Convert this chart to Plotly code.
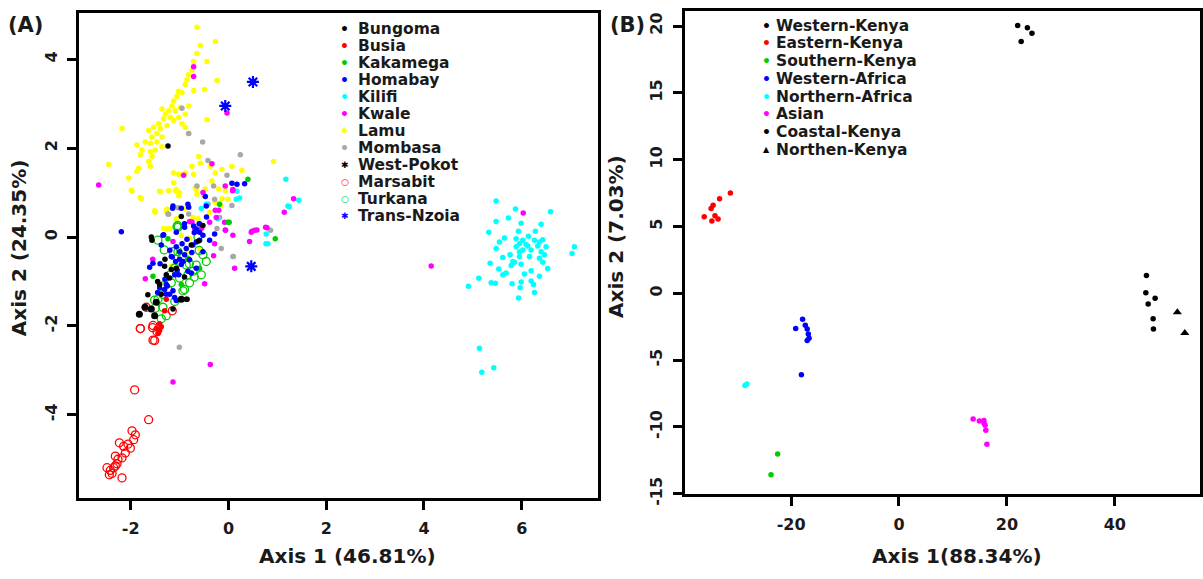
import plotly.graph_objects as go

# ---------------- Panel A data (Axis 1 / Axis 2) ----------------
bungoma_x = [-1.579, -1.307, -1.818, -1.511, -0.864, -1.205, -1.068, -0.966, -1.409, -1.238,
             -1.566, -0.611, -1.273, -1.17, -1.375, -1.136, -0.762, -0.523, -0.847,
             -1.45, -1.3, -0.9, -1.65]
bungoma_y = [0.0, -0.66, -1.73, -1.77, -1.40, -0.92, -0.70, 0.46, -1.07, 2.05,
             -0.07, -0.09, -0.85, -0.73, -1.29, -1.62, -0.18, 0.26, -1.40,
             -1.0, -0.5, -0.9, -1.3]

busia_x = [-1.477, -1.409, -1.273, -1.307, -1.443, -1.375, -1.409]
busia_y = [-2.06, -2.10, -1.40, -1.66, -2.17, -2.02, -1.95]

kakamega_x = [0.398, -0.01, 0.957, -1.545, -1.239, 0.014, -0.182, -0.83, -0.591, -0.966]
kakamega_y = [1.30, 0.33, -0.04, -0.88, -0.04, 0.33, 0.74, -0.48, -0.70, -1.07]

homabay_x = [-2.192, 0.07, 0.173, 0.33, -1.143, -0.966, -0.815, -0.474, -1.327, -0.713,
             -1.613, -1.545, -1.375, -1.341, -1.068, -0.898, -1.068, -1.0, -0.898, -1.082,
             -0.966, -0.796, -0.659, -0.591, -1.273, -1.136, -1.102, -1.409, -0.659, -0.523,
             -1.273, -1.02, -0.83, -0.284, -0.455, -1.136, -0.83, -1.17, -0.932, -0.864,
             -0.728, -0.591, -0.386, -0.523, -1.102, -1.307, -1.204, -1.068, -0.762, -0.659,
             -1.2, -1.15, -0.95, -0.85, -1.3, -1.25, -1.45, -0.75, -0.7, -0.6,
             -1.0, -1.05, -1.4, -0.45, -0.9]
homabay_y = [0.12, 1.21, 1.19, 1.20, 0.65, 0.65, 0.67, 0.91, 0.05, 0.25,
             -0.68, -0.59, -0.18, 0.04, 0.11, 0.22, -0.22, -0.33, -0.40, -0.55,
             -0.62, -0.51, 0.18, -0.07, -1.29, -1.21, -1.36, -1.14, -0.11, 0.04,
             -1.07, -0.85, -0.77, 0.07, 0.70, 0.70, 0.74, -0.44, -0.55, -0.26,
             -0.18, 0.11, -0.07, -0.33, -0.85, -1.18, -1.29, -1.43, -0.81, -0.70,
             -0.3, -0.45, -0.15, -0.05, -0.95, -1.1, -1.25, -0.35, 0.1, 0.3,
             -0.5, -0.75, -0.6, 0.45, 0.3]

kilifi_x = [5.476, 5.871, 6.587, 5.728, 5.476, 5.987, 6.396, 5.326, 5.933, 6.28,
            5.646, 5.544, 6.137, 6.021, 5.953, 6.26, 6.43, 5.885, 6.123, 6.328,
            6.498, 5.476, 6.021, 6.192, 6.396, 6.464, 7.078, 7.03, 5.762, 5.612,
            5.953, 6.158, 6.362, 5.353, 5.851, 5.987, 5.783, 6.43, 6.532, 5.53,
            5.612, 5.68, 6.055, 6.192, 6.362, 5.121, 5.374, 5.462, 4.91, 5.803,
            5.987, 5.967, 6.192, 6.24, 6.26, 5.933, 5.135, 5.183, 5.428, 5.885,
            6.089, 6.362, 5.953, 5.817,
            1.174, 1.243, 1.44, 0.767, 0.172, -0.557, -0.216, 0.159, 0.227, 0.772,
            0.806, 1.215, -0.455]
kilifi_y = [0.81, 0.63, 0.57, 0.43, 0.35, 0.31, 0.29, 0.11, 0.13, 0.13,
            -0.02, -0.11, 0.02, -0.07, -0.15, -0.07, -0.06, -0.22, -0.20, -0.20,
            -0.22, -0.26, -0.29, -0.29, -0.33, -0.40, -0.22, -0.37, -0.40, -0.46,
            -0.44, -0.44, -0.48, -0.59, -0.57, -0.61, -0.64, -0.57, -0.71, -0.72,
            -0.85, -0.81, -0.83, -0.76, -0.88, -0.93, -1.03, -1.04, -1.11, -1.05,
            -1.01, -1.14, -0.99, -1.07, -1.25, -1.37, -2.50, -3.04, -2.94, -0.04,
            -0.17, -0.11, -0.33, -0.55,
            1.30, 0.68, 0.83, -0.15, 1.03, 0.64, 0.41, 0.85, 0.88, 0.07,
            -0.15, 0.70, 0.74]

kwale_x = [-0.713, -0.713, -0.031, -2.656, -0.918, -0.338, -0.066, 0.084, -0.522, 1.332,
           1.141, -0.066, 0.48, 0.582, 0.787, -0.747, -0.27, 4.147, 6.03, -0.372,
           -1.136, 0.534, 0.759, 0.466, -0.06, 0.09, 0.431, -0.305, 0.125, -0.489,
           -1.702, 0.09, -0.796, -1.136, -0.386, -0.25, -0.693, -0.591, -0.284, -0.08,
           -0.55, -0.2, -1.55]
kwale_y = [3.83, 3.61, 2.79, 1.17, 1.39, 1.65, 1.15, 1.04, 1.0, 0.86,
           0.56, 0.16, 0.13, 0.16, 0.21, 0.34, 0.60, -0.65, 0.54, -2.87,
           -3.26, 0.15, 0.22, 0.11, 0.15, 0.04, -0.10, -0.42, -0.70, -1.05,
           -0.94, 1.07, 0.35, -0.10, 0.33, 0.44, 0.18, 0.30, -0.15, 0.33,
           0.2, 0.6, -0.5]

lamu_x = [-0.645, -0.27, -0.577, -0.645, -0.713, -0.44, -0.747, -0.815, -0.85, -0.236,
          -0.884, -0.713, -0.488, -1.02, -1.054, -0.952, -1.122, -1.156, -1.225, -1.36,
          -1.29, -1.088, -0.815, -0.986, -0.884, -1.02, -1.19, -1.122, -1.327, -1.43,
          -1.531, -1.633, -1.395, -1.259, -0.952, -0.884, -0.44, -0.815, -1.463, -1.36,
          -1.565, -1.702, -1.6, -1.463, -1.36, -1.497, -1.6, -1.77, -1.872, -1.804,
          -1.565, -1.633, -1.6, -2.179, -2.451, -1.838, -1.872, -2.042, -1.974, -1.804,
          -1.395, -1.225, -1.088, -1.02, -1.122, -1.02, -1.122, -0.884, -0.713, -0.747,
          -0.611, -0.577, -0.372, -0.27, -0.134, 0.07, 0.275, -0.338, -0.474, -0.679,
          -0.645, -0.509, -0.202, -0.066, -0.134, -0.27, 0.923, -1.497, -1.259, -1.327,
          -1.225, -1.988, -1.409, -1.784, -1.068, -1.0, -0.659, -1.511, -1.273, -0.898,
          -0.728, -0.625, -1.273, -1.204, -0.966, -0.796, -0.591, -0.864, -1.17, -1.068,
          -0.386, -0.148, -0.012, -0.25]
lamu_y = [4.72, 4.40, 4.31, 4.13, 3.95, 3.95, 3.76, 3.65, 3.54, 3.52,
          3.43, 3.30, 3.32, 3.28, 3.17, 3.25, 3.06, 2.95, 2.84, 2.88,
          2.77, 2.84, 2.95, 2.92, 2.77, 2.69, 2.69, 2.62, 2.66, 2.55,
          2.47, 2.40, 2.44, 2.51, 2.55, 2.47, 2.64, 2.33, 2.33, 2.25,
          2.25, 2.14, 2.11, 2.14, 2.03, 1.96, 1.92, 1.96, 2.07, 1.85,
          1.81, 1.70, 1.59, 2.44, 1.63, 1.55, 1.48, 1.33, 1.04, 0.89,
          1.02, 1.04, 1.04, 0.93, 1.22, 1.41, 1.44, 1.44, 1.41, 1.59,
          1.81, 1.66, 1.59, 1.44, 1.52, 1.59, 1.50, 1.26, 1.08, 1.11,
          0.96, 0.93, 1.08, 1.04, 0.86, 0.78, 1.70, 0.56, 0.63, 0.19,
          0.19, 1.05, 1.03, 0.86, 1.07, 0.99, 1.07, 0.59, 0.59, 0.63,
          0.44, 0.41, 0.18, 0.18, 0.04, -0.04, -0.26, -0.33, -0.66, 0.41,
          0.55, 0.70, 0.85, 0.77]

mombasa_x = [-0.952, -0.815, -0.529, 0.241, -0.42, -0.031, -0.304, -0.645, -1.225, -0.815,
             0.07, -0.236, 0.1, 0.86, -1.006, -1.239, 0.09, -0.148, -1.034, -0.42,
             -0.284, -0.182]
mombasa_y = [2.90, 2.33, 2.14, 1.85, 1.72, 1.39, 1.15, 1.15, 0.51, 0.52,
             0.71, 0.19, -0.44, 0.15, -2.48, 0.52, -0.44, -0.26, 0.66, 0.74,
             0.85, 0.44]

westpokot_x = [-1.824, -1.708, -1.477, -1.579, -0.966, -1.511]
westpokot_y = [-1.74, -1.58, -1.47, -1.62, -1.40, -1.77]

marsabit_x = [-1.804, -1.552, -1.463, -1.511, -1.92, -1.634, -1.974, -1.906, -1.94, -2.056,
              -2.233, -2.145, -2.008, -2.11, -2.179, -2.315, -2.261, -2.281, -2.486, -2.417,
              -2.349, -2.383, -2.438, -2.179, -2.315, -1.804, -1.545, -1.545, -1.682, -1.15]
marsabit_y = [-2.06, -2.04, -2.13, -2.33, -3.44, -4.11, -4.36, -4.45, -4.56, -4.66,
              -4.63, -4.71, -4.75, -4.86, -4.97, -4.93, -5.00, -5.10, -5.19, -5.25,
              -5.19, -5.32, -5.35, -5.42, -5.15, -2.06, -1.99, -2.32, -1.58, -1.66]

turkana_x = [-1.034, -1.443, -1.136, -0.659, -0.83, -0.796, -0.932, -1.341, -1.511, -1.375,
             -0.625, -0.455, -0.864, -1.054, -1.041, -1.315, -0.728, -1.0, -1.17, -1.239,
             -1.443, -1.341, -1.273, -0.523, -0.557, -0.898, -1.034, -1.102,
             -0.95, -1.2, -1.35, -0.8, -0.7, -1.5, -1.1, -0.6]
turkana_y = [0.22, -0.07, -0.33, -0.63, -0.85, -1.03, -1.21, -1.29, -1.42, -1.84,
             0.0, -0.55, -0.63, 0.23, 0.26, -0.29, -0.77, -0.92, -1.03, -1.18,
             -1.40, -1.58, -1.77, -0.40, -0.85, -1.18, -0.33, -0.70,
             -0.45, -0.85, -1.1, -0.6, -0.9, -1.6, -1.45, -0.3]

transnzoia_x = [0.5, -0.066, 0.466]
transnzoia_y = [3.49, 2.95, -0.66]

# ---------------- Panel B data ----------------
wkenya_x = [22.0, 23.8, 22.65, 24.65]
wkenya_y = [20.04, 19.87, 18.85, 19.46]
ekenya_x = [-31.26, -33.26, -34.46, -34.83, -34.11, -36.11, -33.54, -34.69]
ekenya_y = [7.51, 7.07, 6.58, 6.34, 5.80, 5.73, 5.56, 5.41]
skenya_x = [-22.5, -23.72]
skenya_y = [-12.02, -13.58]
wafrica_x = [-17.87, -19.15, -17.37, -17.02, -16.81, -16.67, -17.02, -18.09]
wafrica_y = [-1.95, -2.63, -2.39, -2.68, -3.05, -3.37, -3.54, -6.10]
nafrica_x = [-28.56, -28.2]
nafrica_y = [-6.90, -6.78]
asian_x = [13.74, 14.89, 15.74, 15.96, 16.1, 16.3, 15.74]
asian_y = [-9.41, -9.56, -9.51, -9.88, -10.24, -11.29, -9.7]
ckenya_x = [45.87, 45.76, 47.48, 46.19, 47.11, 47.17]
ckenya_y = [1.34, 0.05, -0.37, -0.80, -1.90, -2.68]
nkenya_x = [51.6, 52.98]
nkenya_y = [-1.41, -2.98]

ticks_a_x = [-2, 0, 2, 4, 6]
ticks_a_y = [-4, -2, 0, 2, 4]
ticks_b_x = [-20, 0, 20, 40]
ticks_b_y = [-15, -10, -5, 0, 5, 10, 15, 20]

W, H = 1203, 579
FONT = "DejaVu Sans"

fig = go.Figure()

def dots(x, y, color, size=5.5, symbol="circle", axis="A", lw=0):
    xa, ya = ("x", "y") if axis == "A" else ("x2", "y2")
    if symbol.endswith("open"):
        marker = dict(symbol=symbol, size=size, color=color, line=dict(color=color, width=lw or 1.3))
    else:
        marker = dict(symbol=symbol, size=size, color=color, line=dict(width=0))
    fig.add_trace(go.Scatter(x=x, y=y, mode="markers", marker=marker,
                             xaxis=xa, yaxis=ya, showlegend=False, hoverinfo="skip"))

# panel A
dots(lamu_x, lamu_y, "#FFFF00")
dots(mombasa_x, mombasa_y, "#A8A8A8")
dots(kilifi_x, kilifi_y, "#00FFFF")
dots(kwale_x, kwale_y, "#FF00FF")
dots(turkana_x, turkana_y, "#00CD00", size=8, symbol="circle-open")
dots(marsabit_x, marsabit_y, "#FF0000", size=8, symbol="circle-open")
dots(kakamega_x, kakamega_y, "#00CD00")
dots(homabay_x, homabay_y, "#0000FF")
dots(bungoma_x, bungoma_y, "#000000")
dots(busia_x, busia_y, "#FF0000")
dots(westpokot_x, westpokot_y, "#000000", size=7)
dots(transnzoia_x, transnzoia_y, "#0000FF", size=10, symbol="asterisk-open", lw=2.2)

# panel B
dots(wkenya_x, wkenya_y, "#000000", axis="B")
dots(ekenya_x, ekenya_y, "#FF0000", axis="B")
dots(skenya_x, skenya_y, "#00CD00", axis="B")
dots(wafrica_x, wafrica_y, "#0000FF", axis="B")
dots(nafrica_x, nafrica_y, "#00FFFF", axis="B")
dots(asian_x, asian_y, "#FF00FF", axis="B")
dots(ckenya_x, ckenya_y, "#000000", axis="B")
dots(nkenya_x, nkenya_y, "#000000", 8, symbol="triangle-up", axis="B")

def px_x(p):
    return p / W

def px_y(p):
    return 1 - p / H

tickfont = dict(family=FONT, size=16, color="#1a1a1a", weight="bold")

def axis_common(rng, vals, dom):
    return dict(range=rng, domain=dom, tickvals=vals, ticktext=[str(v) for v in vals],
                showgrid=False, zeroline=False, showline=True, mirror=True,
                linecolor="black", linewidth=3, ticks="outside", ticklen=9,
                tickwidth=2.5, tickcolor="black", tickfont=tickfont,
                ticklabelstandoff=4)

xa = axis_common([-3.06, 7.55], ticks_a_x, [px_x(79), px_x(598)])
ya = axis_common([-5.88, 5.04], ticks_a_y, [px_y(508), px_y(13.3)])
ya["tickangle"] = -90
xb = axis_common([-39.7, 55.8], ticks_b_x, [px_x(685.4), px_x(1201)])
yb = axis_common([-15.05, 21.14], ticks_b_y, [px_y(504), px_y(11)])
yb["tickangle"] = -90
xb["anchor"] = "y2"
yb["anchor"] = "x2"

annotations = []

def text(s, x, y, size, angle=0, xanchor="center", color="#1a1a1a"):
    annotations.append(dict(text=s, x=px_x(x), y=px_y(y), xref="paper", yref="paper",
                            showarrow=False, xanchor=xanchor, yanchor="middle",
                            textangle=angle,
                            font=dict(family=FONT, size=size, color=color, weight="bold")))

text("(A)", 26, 25, 21)
text("(B)", 628, 25, 21)
text("Axis 1 (46.81%)", 348, 567, 20)
text("Axis 2 (24.35%)", 19, 252, 20, angle=-90)
text("Axis 1(88.34%)", 958, 567, 20)
text("Axis 2 (7.03%)", 617, 241, 20, angle=-90)

legend_a = [("Bungoma", "•", "#000000"), ("Busia", "•", "#FF0000"), ("Kakamega", "•", "#00CD00"),
            ("Homabay", "•", "#0000FF"), ("Kilifi", "•", "#00FFFF"), ("Kwale", "•", "#FF00FF"),
            ("Lamu", "•", "#FFFF00"), ("Mombasa", "•", "#A8A8A8"), ("West-Pokot", "✱", "#000000"),
            ("Marsabit", "○", "#FF0000"), ("Turkana", "○", "#00CD00"), ("Trans-Nzoia", "✱", "#0000FF")]
legend_b = [("Western-Kenya", "•", "#000000"), ("Eastern-Kenya", "•", "#FF0000"),
            ("Southern-Kenya", "•", "#00CD00"), ("Western-Africa", "•", "#0000FF"),
            ("Northern-Africa", "•", "#00FFFF"), ("Asian", "•", "#FF00FF"),
            ("Coastal-Kenya", "•", "#000000"), ("Northen-Kenya", "▲", "#000000")]

for i, (lab, sym, col) in enumerate(legend_a):
    yy = 29.3 + i * 17.34
    text(lab, 356, yy, 15.5, xanchor="left")
    text(sym, 345, yy, 9 if sym != "•" else 14, color=col)
for i, (lab, sym, col) in enumerate(legend_b):
    yy = 26 + i * 18.1
    text(lab, 775, yy, 15.5, xanchor="left")
    text(sym, 767, yy, 8 if sym != "•" else 14, color=col)

fig.update_layout(width=W, height=H, margin=dict(l=0, r=0, t=0, b=0),
                  paper_bgcolor="white", plot_bgcolor="white",
                  xaxis=xa, yaxis=ya, xaxis2=xb, yaxis2=yb,
                  annotations=annotations, showlegend=False)

fig.write_html("out.html")
